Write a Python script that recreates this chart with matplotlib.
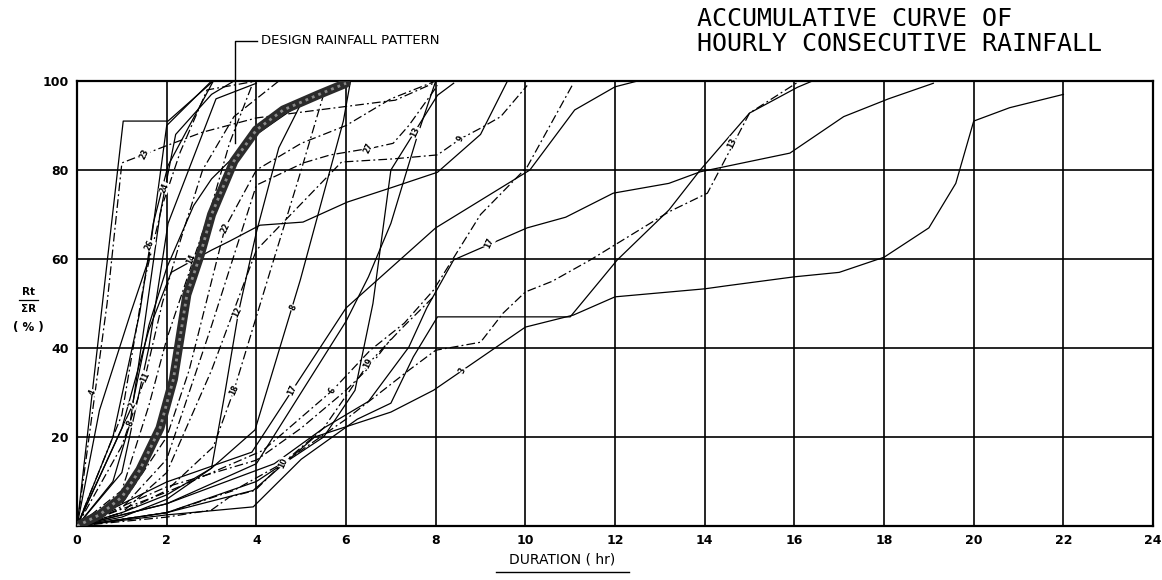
import matplotlib.pyplot as plt
from matplotlib.lines import Line2D

# duration ticks / percentage ticks
x_ticks = list(range(0, 25, 2))
y_ticks = [20, 40, 60, 80, 100]

# design rainfall pattern (thick curve)
design_x = [0, 0.5, 1.0, 1.4, 1.85, 2.15, 2.45, 2.75, 3.0, 3.5, 4.0, 4.6, 5.4, 6.0]
design_y = [0, 2.5, 6.5, 12.6, 22, 33, 52, 61, 70, 82, 89, 93.5, 97, 99.5]

# individual storms: (x, y, dashed?, label, label x, label y)
storms = [
    ([0, 1.03, 2.03, 3.04], [0, 91, 91, 100], False, None, None, None),
    ([0, 0.67, 1.0, 2.03, 2.8, 4.0, 5.0, 7.1, 7.95],
     [0, 50, 81.6, 85.6, 88.5, 91.7, 93, 95.7, 99.5], True, "23", 1.5, 83.6),
    ([0, 0.5, 1.2, 1.6, 2.0, 3.0], [0, 26, 48, 60, 90, 100], False, "4", 0.35, 30),
    ([0, 0.8, 1.4, 1.7, 2.03, 3.04], [0, 20, 48, 68, 81, 100], False, "26", 1.62, 63),
    ([0, 1.0, 1.5, 1.9, 2.3, 2.9, 4.0], [0, 25, 55, 72, 84, 98, 100], True, "24", 1.95, 76),
    ([0, 1.0, 1.6, 2.03, 3.1, 4.0], [0, 12, 40, 68, 96, 99.5], False, None, None, None),
    ([0, 1.0, 1.6, 2.0, 2.5, 3.0, 3.4, 3.9], [0, 8, 27, 42, 57, 72, 86, 99], True, None, None, None),
    ([0, 0.8, 1.18, 1.5, 1.85, 2.2, 3.0, 3.5], [0, 10, 23, 45, 70, 88, 97, 100], False, "8", 1.18, 23),
    ([0, 1.0, 1.52, 1.9, 2.3, 2.8, 3.5, 4.5], [0, 18, 33.5, 50, 64, 80, 92, 100], True, "11", 1.52, 33.5),
    ([0, 1.23, 1.6, 2.0, 2.6, 3.0, 4.0, 5.0], [0, 27, 45, 58, 72, 78, 88, 95], False, "2", 1.23, 27),
    ([0, 1.0, 1.6, 2.1, 3.0, 3.4, 4.08, 5.04, 6.03, 7.0, 8.04, 9.0, 9.6],
     [0, 22, 44, 57, 62, 64, 67.6, 68.3, 72.8, 76, 79.5, 88, 100], False, "14", 2.55, 60),
    ([0, 1, 2, 2.5, 3.0, 3.3, 4.0, 5.0, 6.0, 7.0, 8.0],
     [0, 5, 20, 35, 55, 67, 80, 86, 90, 96, 100], True, "22", 3.3, 67),
    ([0, 1, 2, 3, 4.0, 5.05, 5.65, 6.6, 7.05, 7.4, 8.04],
     [0, 4, 15, 45, 76.6, 81.6, 83.4, 85, 86, 90, 99], True, "27", 6.5, 85),
    ([0, 1, 2, 3, 4, 5.9, 7.05, 8.04, 8.55, 9.0, 9.45, 10.04],
     [0, 3, 12, 35, 62, 81.8, 82.5, 83.4, 87, 89.4, 92, 99], True, "9", 8.55, 87),
    ([0, 2, 4, 5.5, 6.2, 6.6, 7.0, 8.04, 8.4],
     [0, 3, 10, 20, 30.5, 50, 80, 96.8, 99.5], False, "13", 7.55, 88.5),
    ([0, 2, 4, 5, 6, 6.5, 7, 7.6, 8.0], [0, 5, 14, 30, 46, 56, 68, 88, 100], False, None, None, None),
    ([0, 1, 2, 3.04, 3.5, 4.24, 5.0, 5.5], [0, 3, 8, 17.8, 30.5, 55, 80, 97], True, "18", 3.5, 30.5),
    ([0, 1, 2, 3, 3.3, 3.6, 4, 4.5, 5.0], [0, 3, 7, 13, 30, 48, 66, 85, 95], False, "12", 3.57, 48),
    ([0, 1, 2, 3, 3.97, 4.98, 5.94, 6.1], [0, 2, 6, 13, 21.6, 55.3, 91, 100], False, "8", 4.82, 49),
    ([0, 2, 3.9, 6, 8, 10.1, 11.1, 12, 12.5], [0, 9.9, 16.6, 49, 67, 80, 93.5, 98.7, 100], False, "17", 4.8, 30.5),
    ([0, 2, 4.15, 5.7, 6.54, 7.3, 7.95, 9.0, 10.04, 11.07],
     [0, 7.6, 17, 30.5, 39.5, 45.6, 53, 70, 80.7, 99.5], True, "6", 5.7, 30.5),
    ([0, 2, 4.4, 5.5, 6.5, 7.4, 7.8, 8.4, 10.04, 10.9, 11.96, 13.2, 13.9, 15.9, 17.1, 18.1, 19.1],
     [0, 5, 14, 22, 28, 40.2, 49, 59.8, 67, 69.4, 74.8, 77, 79.6, 83.8, 92, 96, 99.5], False, "17", 9.2, 63.6),
    ([0, 2, 3.5, 4.6, 6, 7.4, 8, 9, 9.5, 10, 10.6, 11.45, 13.2, 14.06, 15, 16.07],
     [0, 3, 8, 14.2, 24, 35, 39.5, 41.3, 47.8, 52.6, 55, 59.8, 70.6, 74.8, 92.8, 99.7], True, "13", 14.6, 86),
    ([0, 2, 3.93, 5.3, 7.0, 7.95, 8.6, 10, 11.07, 12, 14, 14.5, 16, 17, 18, 19, 19.6, 20, 20.8, 22],
     [0, 3, 8, 20, 25.6, 30.5, 35, 44.7, 47.4, 51.5, 53.3, 54, 56, 57, 60.4, 67, 77, 91, 94, 97],
     False, "3", 8.6, 35),
    ([0, 2, 3.93, 5, 6.25, 7.0, 7.5, 8.04, 11.0, 12.05, 13.2, 13.9, 15.0, 16.07, 16.4],
     [0, 2.5, 4.3, 15, 24, 27.6, 38, 47, 47, 59.8, 71, 80, 92.8, 98.6, 100], False, None, None, None),
    ([0, 2, 3.0, 3.4, 3.97, 4.6, 5.5, 6.5, 7.2, 8.0],
     [0, 2, 3.6, 6.5, 8, 14.2, 22, 36.5, 44, 52], True, "10", 4.6, 14.2),
    ([0, 2, 4.0, 5.0, 6.0, 6.5, 7.0], [0, 8.8, 14.8, 22, 30.5, 35.5, 42], True, "19", 6.5, 36.5),
]

fig = plt.figure(figsize=(11.62, 5.80), dpi=100)
ax = fig.add_axes([0.0663, 0.0931, 0.926, 0.7672])

for xs, ys, dashed, lab, lx, ly in storms:
    if dashed:
        ax.plot(xs, ys, color='black', lw=0.9, dashes=(7, 2.5, 1.5, 2.5))
    else:
        ax.plot(xs, ys, color='black', lw=0.9)
    if lab:
        ax.text(lx, ly, lab, fontsize=5.5, fontweight='bold', ha='center', va='center',
                rotation=65, bbox=dict(facecolor='white', edgecolor='none', pad=0.3))

ax.plot(design_x, design_y, color='#2b2b2b', lw=6.5, solid_capstyle='round', zorder=5)
ax.plot(design_x, design_y, color='#8a8a8a', lw=2.0, dashes=(1, 1.5), zorder=6)

ax.set_xlim(0, 24)
ax.set_ylim(0, 100)
ax.set_xticks(x_ticks)
ax.set_yticks(y_ticks)
ax.set_xticklabels([str(t) for t in x_ticks], fontsize=9, fontweight='bold')
ax.set_yticklabels([str(t) for t in y_ticks], fontsize=9, fontweight='bold')
ax.tick_params(length=0, pad=6)
ax.grid(True, color='black', lw=1.2)
for s in ax.spines.values():
    s.set_linewidth(1.6)

# leader for the design curve
ax.plot([4.02, 3.53, 3.53], [109, 109, 86], color='black', lw=1.0, clip_on=False)
ax.text(4.1, 109, "DESIGN RAINFALL PATTERN", fontsize=9.5, va='center', ha='left',
        clip_on=False)

fig.text(0.6, 0.968, "ACCUMULATIVE CURVE OF", family='DejaVu Sans Mono', fontsize=18,
         va='center', ha='left')
fig.text(0.6, 0.924, "HOURLY CONSECUTIVE RAINFALL", family='DejaVu Sans Mono', fontsize=18,
         va='center', ha='left')

# y label: Rt / ΣR (%)
fig.text(0.0245, 0.497, "Rt", fontsize=7.5, fontweight='bold', ha='center', va='center')
fig.text(0.0245, 0.468, "ΣR", fontsize=7.5, fontweight='bold', ha='center', va='center')
fig.add_artist(Line2D([0.0165, 0.0325], [0.483, 0.483], color='black', lw=0.9))
fig.text(0.024, 0.436, "( % )", fontsize=8.5, fontweight='bold', ha='center', va='center')

# x label, underlined
fig.text(0.484, 0.035, "DURATION ( hr)", fontsize=10, ha='center', va='center')
fig.add_artist(Line2D([0.427, 0.541], [0.013, 0.013], color='black', lw=1.0))

fig.savefig('out.png', dpi=100)
